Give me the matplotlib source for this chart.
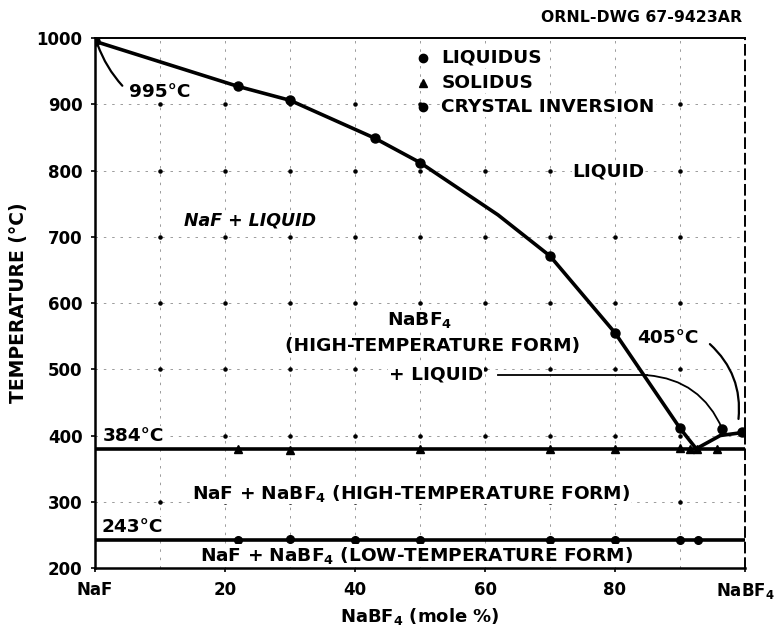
# NaF - NaBF4 phase diagram (ORNL-DWG 67-9423AR)

import numpy as np
import matplotlib.pyplot as plt

plt.rcParams['font.family'] = 'DejaVu Sans'
plt.rcParams['font.weight'] = 'bold'

# liquidus, NaF side (mole % NaBF4, deg C)
liq_x = [0, 22, 30, 43, 50, 70, 80, 90]
liq_t = [995, 927, 906, 849, 812, 671, 555, 411]
# liquidus line through the eutectic to NaBF4
liq_line_x = [0, 22, 30, 43, 50, 62, 70, 80, 90, 92.5, 96.2, 100]
liq_line_t = [995, 927, 906, 849, 812, 733, 671, 555, 411, 380, 400, 405]
# liquidus, NaBF4 side
liq2_x = [96.5, 99.5]
liq2_t = [410, 405]

# solidus (eutectic) arrests
sol_x = [22, 30, 50, 70, 80, 90, 91.5, 92.6, 95.7]
sol_t = [380, 378, 379, 379, 379, 381, 379, 379, 380]
eutectic_t = 379

# crystal inversion of NaBF4
inv_x = [22, 30, 40, 50, 70, 80, 90, 92.8]
inv_t = [242, 244, 242, 242, 242, 242, 243, 242]
inversion_t = 242

x_ticks = [0, 20, 40, 60, 80, 100]
x_labels = ['NaF', '20', '40', '60', '80', 'NaBF$_4$']
y_ticks = [200, 300, 400, 500, 600, 700, 800, 900, 1000]

FS = 13.3
white = dict(facecolor='white', edgecolor='none', pad=0.5)

fig = plt.figure(figsize=(7.77, 6.37), dpi=100)
ax = fig.add_axes([0.1223, 0.1083, 0.8365, 0.832])
ax.set_xlim(0, 100)
ax.set_ylim(200, 1000)

# faint dashed grid with dots at the crossings
for gx in range(10, 100, 10):
    ax.axvline(gx, color='0.55', lw=0.6, ls=(0, (3, 7)), zorder=1)
for gy in range(300, 1000, 100):
    ax.axhline(gy, color='0.55', lw=0.6, ls=(0, (3, 7)), zorder=1)
gx, gy = np.meshgrid(np.arange(10, 100, 10), np.arange(300, 1000, 100))
ax.scatter(gx.ravel(), gy.ravel(), s=5, color='black', zorder=2)

# phase boundaries
ax.plot(liq_line_x, liq_line_t, color='black', lw=2.6, zorder=3)
ax.axhline(eutectic_t, color='black', lw=2.6, zorder=3)
ax.axhline(inversion_t, color='black', lw=2.6, zorder=3)

ax.plot(liq_x, liq_t, 'o', color='black', ms=6.5, zorder=4)
ax.plot(liq2_x, liq2_t, 'o', color='black', ms=6.5, zorder=4)
ax.plot(sol_x, sol_t, '^', color='black', ms=6, zorder=4)
ax.plot(inv_x, inv_t, 'o', color='black', ms=5.5, zorder=4)

# legend
ax.plot([50.5], [970], 'o', color='black', ms=6, zorder=6)
ax.plot([50.5], [932], '^', color='black', ms=6, zorder=6)
ax.plot([50.5], [896], 'o', color='black', ms=6, zorder=6)
ax.text(53.3, 970, 'LIQUIDUS', fontsize=FS, va='center', bbox=white, zorder=5)
ax.text(53.3, 932, 'SOLIDUS', fontsize=FS, va='center', bbox=white, zorder=5)
ax.text(53.3, 896, 'CRYSTAL INVERSION', fontsize=FS, va='center', bbox=white, zorder=5)

# region labels
ax.text(23.8, 725, 'NaF + LIQUID', fontsize=12.5, ha='center', va='center',
        style='italic', bbox=white, zorder=5)
ax.text(79, 798, 'LIQUID', fontsize=FS, ha='center', va='center', bbox=white, zorder=5)
ax.text(50, 574, 'NaBF$_4$', fontsize=FS, ha='center', va='center', bbox=white, zorder=5)
ax.text(52, 535, '(HIGH-TEMPERATURE FORM)', fontsize=FS, ha='center', va='center',
        bbox=white, zorder=5)
ax.text(52.5, 492, '+ LIQUID', fontsize=FS, ha='center', va='center', bbox=white, zorder=5)
ax.text(48.6, 313, 'NaF + NaBF$_4$ (HIGH-TEMPERATURE FORM)', fontsize=FS,
        ha='center', va='center', bbox=white, zorder=5)
ax.text(49.5, 219, 'NaF + NaBF$_4$ (LOW-TEMPERATURE FORM)', fontsize=FS,
        ha='center', va='center', bbox=white, zorder=5)

# temperature labels and leaders
ax.text(9.9, 918, '995°C', fontsize=FS, ha='center', va='center', bbox=white, zorder=5)
ax.annotate('', xy=(0.4, 990), xytext=(4.2, 928),
            arrowprops=dict(arrowstyle='-', color='black', lw=1.6,
                            connectionstyle='arc3,rad=-0.1', shrinkA=0, shrinkB=0))
ax.text(1.2, 399, '384°C', fontsize=FS, ha='left', va='center', bbox=white, zorder=5)
ax.text(1.0, 262, '243°C', fontsize=FS, ha='left', va='center', bbox=white, zorder=5)
ax.text(88.2, 547, '405°C', fontsize=FS, ha='center', va='center', bbox=white, zorder=5)
ax.annotate('', xy=(99.0, 425), xytext=(94.6, 538),
            arrowprops=dict(arrowstyle='-', color='black', lw=1.6,
                            connectionstyle='arc3,rad=-0.25', shrinkA=0, shrinkB=0))
ax.plot([62, 85], [491, 491], color='black', lw=1.3, zorder=3)
ax.annotate('', xy=(96.5, 410), xytext=(85, 491),
            arrowprops=dict(arrowstyle='-', color='black', lw=1.3,
                            connectionstyle='arc3,rad=-0.3', shrinkA=0, shrinkB=0))

# axes and labels
ax.set_xticks(x_ticks)
ax.set_xticklabels(x_labels)
ax.set_yticks(y_ticks)
ax.tick_params(length=3, width=1.2, labelsize=12, pad=6)
for lab in ax.get_xticklabels() + ax.get_yticklabels():
    lab.set_fontweight('bold')
ax.set_xlabel('NaBF$_4$ (mole %)', fontsize=13, fontweight='bold', labelpad=4)
ax.set_ylabel('TEMPERATURE (°C)', fontsize=13.5, fontweight='bold', labelpad=6)
ax.spines['left'].set_linewidth(1.8)
ax.spines['bottom'].set_linewidth(1.8)
ax.spines['top'].set_linewidth(1.4)
ax.spines['right'].set_linewidth(1.4)
ax.spines['right'].set_linestyle((0, (5, 3)))

fig.text(0.955, 0.972, 'ORNL-DWG 67-9423AR', fontsize=11.3, ha='right', va='center')

fig.savefig('out.png', dpi=100)
